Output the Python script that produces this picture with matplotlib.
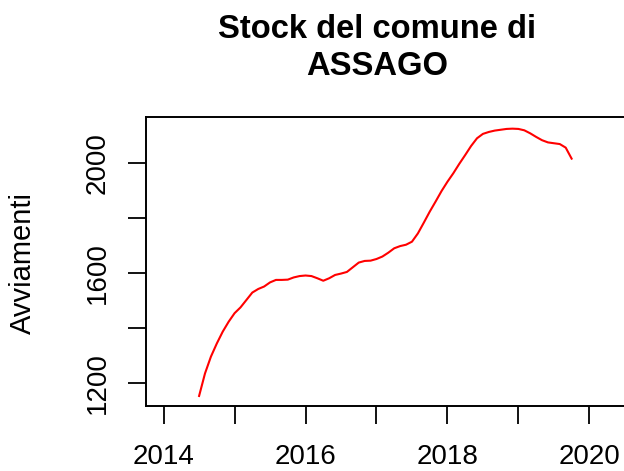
import matplotlib
matplotlib.use("Agg")
import matplotlib.pyplot as plt
import numpy as np

plt.rcParams['font.family'] = ['Liberation Sans', 'DejaVu Sans']

start_year = 2014.5
values = [1154, 1236, 1297, 1345, 1388, 1424, 1455, 1476, 1503, 1530, 1543, 1552,
          1567, 1576, 1576, 1577, 1585, 1590, 1592, 1590, 1582, 1573, 1582, 1594,
          1599, 1605, 1622, 1639, 1645, 1646, 1652, 1661, 1675, 1691, 1699, 1704,
          1715, 1745, 1784, 1824, 1861, 1899, 1933, 1964, 1998, 2030, 2063, 2091,
          2107, 2114, 2119, 2122, 2125, 2126, 2125, 2120, 2109, 2096, 2084, 2076,
          2073, 2070, 2057, 2017]
x_ticks = [2014, 2015, 2016, 2017, 2018, 2019, 2020]
x_labels = ['2014', '', '2016', '', '2018', '', '2020']
y_ticks = [1200, 1400, 1600, 1800, 2000]
y_labels = ['1200', '', '1600', '', '2000']
title_lines = ["Stock del comune di", "ASSAGO"]
ylabel = "Avviamenti"

times = start_year + np.arange(len(values)) / 12.0

W, H = 624, 471
fig = plt.figure(figsize=(W / 100, H / 100), dpi=100)
left, right, top, bottom = 146.3, 632.0, 117.3, 406.0
ax = fig.add_axes([left / W, (H - bottom) / H, (right - left) / W, (bottom - top) / H])
ax.plot(times, values, color='#ff0000', lw=1.5)
ax.set_xlim(2013.756, 2020.601)
ax.set_ylim(1117.5, 2167.3)
ax.set_xticks(x_ticks)
ax.set_xticklabels(x_labels)
ax.set_yticks(y_ticks)
ax.set_yticklabels(y_labels, rotation=90, va='center')
ax.tick_params(direction='out', length=13, width=1.3, labelsize=20, colors='black')
ax.tick_params(axis='x', pad=14.6)
ax.tick_params(axis='y', pad=12.5)
for s in ax.spines.values():
    s.set_linewidth(1.4)
    s.set_color('black')

fig.text(377 / W, 1 - 38 / H, title_lines[0], ha='center', va='baseline',
         fontsize=23.6, fontweight='bold')
fig.text(377 / W, 1 - 75 / H, title_lines[1], ha='center', va='baseline',
         fontsize=23.6, fontweight='bold')
fig.text(23 / W, 1 - 262.5 / H, ylabel, rotation=90, ha='center', va='center', fontsize=21)

fig.savefig('out.png', dpi=100)
